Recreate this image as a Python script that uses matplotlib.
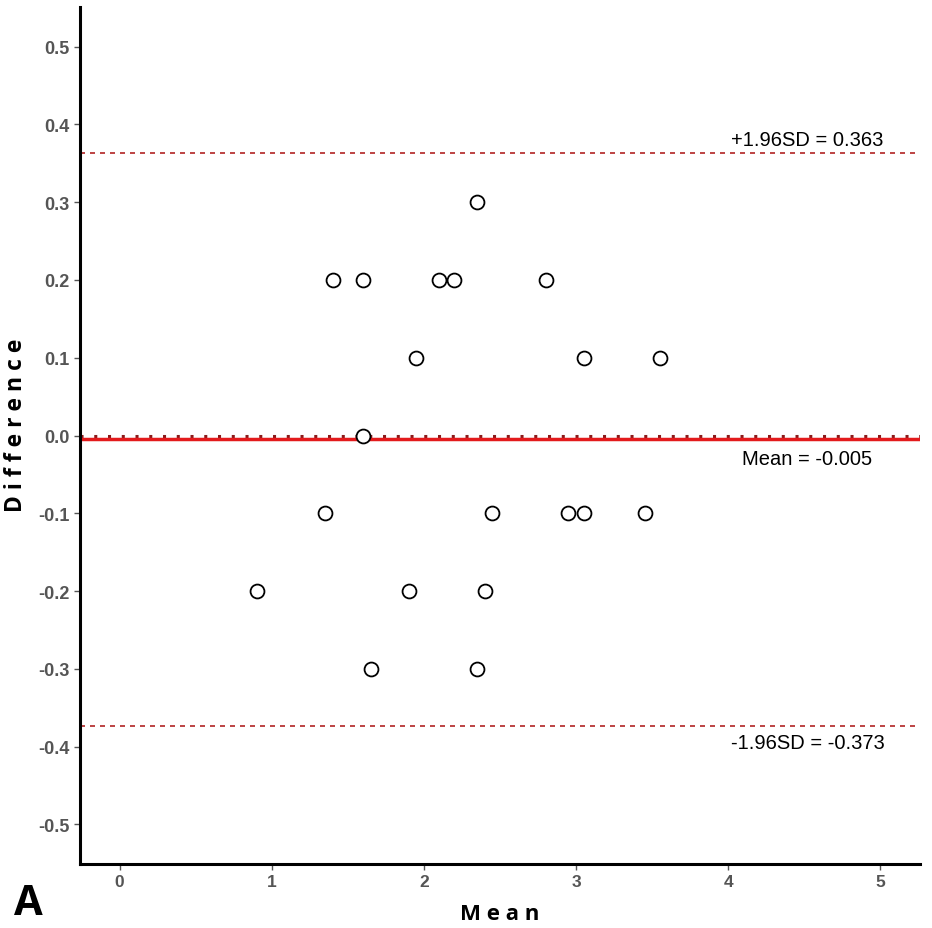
import matplotlib
matplotlib.use("Agg")
import matplotlib.pyplot as plt

mean_vals = [2.35, 1.4, 1.6, 2.1, 2.2, 2.8, 1.95, 3.05, 3.55, 1.6,
             1.35, 2.45, 2.95, 3.05, 3.45, 0.9, 1.9, 2.4, 1.65, 2.35]
diff_vals = [0.3, 0.2, 0.2, 0.2, 0.2, 0.2, 0.1, 0.1, 0.1, 0.0,
             -0.1, -0.1, -0.1, -0.1, -0.1, -0.2, -0.2, -0.2, -0.3, -0.3]
mean_diff = -0.005
upper_loa = 0.363
lower_loa = -0.373
x_ticks = [0, 1, 2, 3, 4, 5]
y_ticks = [-0.5, -0.4, -0.3, -0.2, -0.1, 0.0, 0.1, 0.2, 0.3, 0.4, 0.5]

plt.rcParams['font.family'] = ['Liberation Sans', 'DejaVu Sans']

fig = plt.figure(figsize=(9.32, 9.29), dpi=100)
ax = fig.add_axes([80/932, 64/929, 840/932, 857/929])

ax.axhline(0, color='#8B1A1A', linestyle=(0, (1, 3.5)), linewidth=2.2, zorder=1)
ax.axhline(mean_diff, color='#E31A1C', linestyle='-', linewidth=2.5, zorder=1)
ax.axhline(upper_loa, color='#B22222', linestyle=(0, (3, 3)), linewidth=1.2, zorder=1)
ax.axhline(lower_loa, color='#B22222', linestyle=(0, (3, 3)), linewidth=1.2, zorder=1)

ax.scatter(mean_vals, diff_vals, s=100, facecolors='white', edgecolors='black',
           linewidths=1.3, zorder=3)

ax.text(4.52, upper_loa + 0.006, f"+1.96SD = {upper_loa:.3f}", ha='center', va='bottom',
        fontsize=14.5, color='black')
ax.text(4.52, mean_diff - 0.012, f"Mean = {mean_diff:.3f}", ha='center', va='top',
        fontsize=14.5, color='black')
ax.text(4.52, lower_loa - 0.010, f"-1.96SD = {lower_loa:.3f}", ha='center', va='top',
        fontsize=14.5, color='black')

ax.set_xlim(-0.26, 5.26)
ax.set_ylim(-0.551, 0.551)
ax.set_xticks(x_ticks)
ax.set_xticklabels([str(t) for t in x_ticks])
ax.set_yticks(y_ticks)
ax.set_yticklabels([f"{t:.1f}" for t in y_ticks])

for s in ['top', 'right']:
    ax.spines[s].set_visible(False)
for s in ['left', 'bottom']:
    ax.spines[s].set_linewidth(2.2)
    ax.spines[s].set_color('black')

ax.tick_params(axis='both', colors='#555555', length=4, width=1)
ax.tick_params(axis='y', labelsize=13)
ax.tick_params(axis='x', labelsize=12.5)
for lab in ax.get_xticklabels() + ax.get_yticklabels():
    lab.set_fontweight('bold')
    lab.set_color('#555555')

ax.set_xlabel("M e a n", fontsize=16, fontweight='bold', labelpad=10,
              family=['Open Sans', 'DejaVu Sans'])
fig.text(16/932, 1 - 425/929, "D i f f e r e n c e", fontsize=16.5, fontweight='bold',
         rotation=90, ha='center', va='center', family=['Open Sans', 'DejaVu Sans'])

fig.text(28/932, 1 - 905/929, "A", fontsize=30, fontweight='bold', ha='center', va='center',
         family=['Open Sans', 'DejaVu Sans'])

fig.savefig("out.png", dpi=100, facecolor='white')
